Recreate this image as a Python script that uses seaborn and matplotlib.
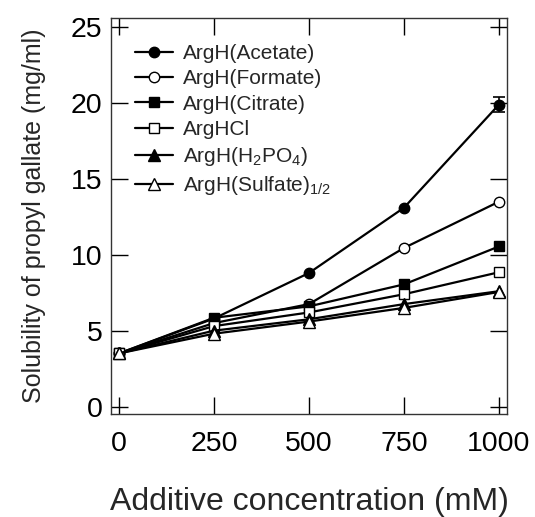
import matplotlib
matplotlib.use("Agg")
import matplotlib.pyplot as plt
import seaborn as sns
import pandas as pd

conc = [0, 250, 500, 750, 1000]
acetate = [3.5, 5.8, 8.8, 13.1, 19.9]
formate = [3.5, 5.5, 6.75, 10.45, 13.5]
citrate = [3.5, 5.85, 6.6, 8.05, 10.55]
arghcl = [3.5, 5.3, 6.2, 7.4, 8.85]
h2po4 = [3.5, 5.0, 5.75, 6.75, 7.6]
sulfate = [3.5, 4.8, 5.6, 6.5, 7.55]
acetate_err = [0, 0, 0, 0, 0.5]

labels = ["ArgH(Acetate)", "ArgH(Formate)", "ArgH(Citrate)", "ArgHCl",
          r"ArgH(H$_2$PO$_4$)", r"ArgH(Sulfate)$_{1/2}$"]
series = [acetate, formate, citrate, arghcl, h2po4, sulfate]
markers = ["o", "o", "s", "s", "^", "^"]
filled = [True, False, True, False, True, False]

sns.set_theme(style="ticks")
plt.rcParams["font.family"] = ["Liberation Sans", "DejaVu Sans"]
plt.rcParams["mathtext.fontset"] = "custom"
plt.rcParams["mathtext.rm"] = "Liberation Sans"
plt.rcParams["mathtext.it"] = "Liberation Sans"

fig = plt.figure(figsize=(5.35, 5.17), dpi=100)
ax = fig.add_axes([0.2075, 0.199, 0.740, 0.766])

for lab, vals, m, f in zip(labels, series, markers, filled):
    df = pd.DataFrame({"conc": conc, "val": vals})
    sns.lineplot(data=df, x="conc", y="val", ax=ax, color="black", lw=1.6,
                 marker=m, markersize=7.5 if m != "^" else 8,
                 markerfacecolor="black" if f else "white",
                 markeredgecolor="black", markeredgewidth=1.0,
                 label=lab, zorder=3)

ax.errorbar(conc[-1:], acetate[-1:], yerr=acetate_err[-1:], fmt="none",
            ecolor="black", elinewidth=1.2, capsize=4, capthick=1.2, zorder=2)

ax.set_xlim(-21, 1021)
ax.set_ylim(-0.5, 25.6)
ax.set_xticks([0, 250, 500, 750, 1000])
ax.set_yticks([0, 5, 10, 15, 20, 25])
ax.tick_params(direction="in", length=12, width=1, top=True, right=True,
               labelsize=20.5, colors="black", pad=12)
ax.tick_params(axis="y", pad=6)
for s in ax.spines.values():
    s.set_linewidth(1)
    s.set_color("#333333")
ax.set_xlabel("Additive concentration (mM)", fontsize=23, labelpad=22)
ax.set_ylabel("Solubility of propyl gallate (mg/ml)", fontsize=18, labelpad=18)

leg = ax.legend(loc="upper left", frameon=False, fontsize=15,
                handlelength=1.8, handletextpad=0.5, labelspacing=0.3,
                borderaxespad=0.0, bbox_to_anchor=(0.04, 0.955))

fig.savefig("out.png", dpi=100)
